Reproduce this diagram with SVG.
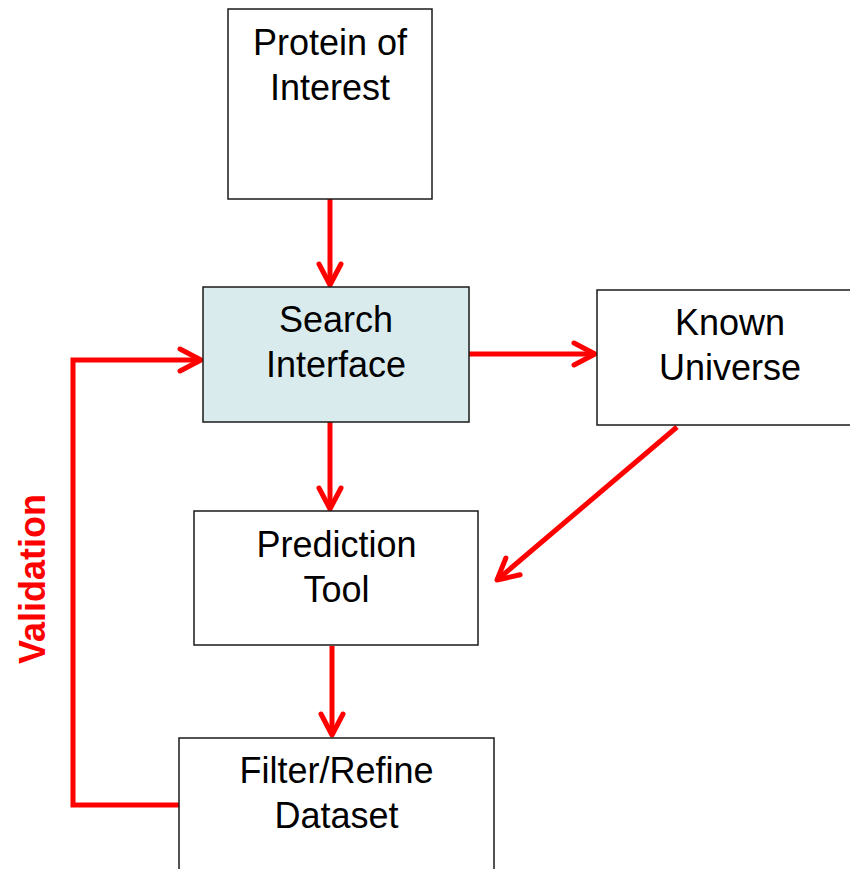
<svg xmlns="http://www.w3.org/2000/svg" width="850" height="869" viewBox="0 0 850 869">
<defs>
<style>
.box{fill:#fff;stroke:#1a1a1a;stroke-width:1.5}
.blue{fill:#DAEBED}
.lbl{font-family:"Liberation Sans",Arial,sans-serif;font-size:36px;fill:#000;text-anchor:middle}
.conn{fill:none;stroke:#ff0000;stroke-width:5;stroke-linejoin:miter}
.val{font-family:"Liberation Sans",Arial,sans-serif;font-size:36px;font-weight:bold;fill:#ff0000;text-anchor:middle}
</style>
<marker id="arr" markerUnits="userSpaceOnUse" markerWidth="40" markerHeight="40" viewBox="-30 -20 40 40" refX="0" refY="0" orient="auto">
<path d="M-21,-11 L0,0 L-21,11" fill="none" stroke="#ff0000" stroke-width="5" stroke-linecap="round" stroke-linejoin="round"/>
</marker>
</defs>
<rect width="850" height="869" fill="#fff"/>
<g id="connectors">
<line class="conn" x1="330" y1="199" x2="330" y2="285" marker-end="url(#arr)"/>
<line class="conn" x1="469" y1="354" x2="595" y2="354" marker-end="url(#arr)"/>
<line class="conn" x1="330" y1="422" x2="330" y2="509" marker-end="url(#arr)"/>
<line class="conn" x1="677" y1="427" x2="497" y2="580" marker-end="url(#arr)"/>
<line class="conn" x1="332" y1="646" x2="332" y2="735" marker-end="url(#arr)"/>
<polyline class="conn" points="179,805 73,805 73,360 201,360" marker-end="url(#arr)"/>
</g>
<g id="protein">
<rect class="box" x="228" y="9" width="204" height="190"/>
<text class="lbl" x="330" y="55">Protein of</text>
<text class="lbl" x="330" y="100">Interest</text>
</g>
<g id="search">
<rect class="box blue" x="203" y="287" width="266" height="135"/>
<text class="lbl" x="336" y="332">Search</text>
<text class="lbl" x="336" y="377">Interface</text>
</g>
<g id="known">
<rect class="box" x="597" y="290" width="260" height="135"/>
<text class="lbl" x="730" y="335">Known</text>
<text class="lbl" x="730" y="380">Universe</text>
</g>
<g id="prediction">
<rect class="box" x="194" y="511" width="284" height="134"/>
<text class="lbl" x="336.5" y="557">Prediction</text>
<text class="lbl" x="336.5" y="602">Tool</text>
</g>
<g id="filter">
<rect class="box" x="179" y="738" width="315" height="140"/>
<text class="lbl" x="336.5" y="783">Filter/Refine</text>
<text class="lbl" x="336.5" y="828">Dataset</text>
</g>
<g id="validation">
<text class="val" transform="translate(45,579) rotate(-90)">Validation</text>
</g>
</svg>
